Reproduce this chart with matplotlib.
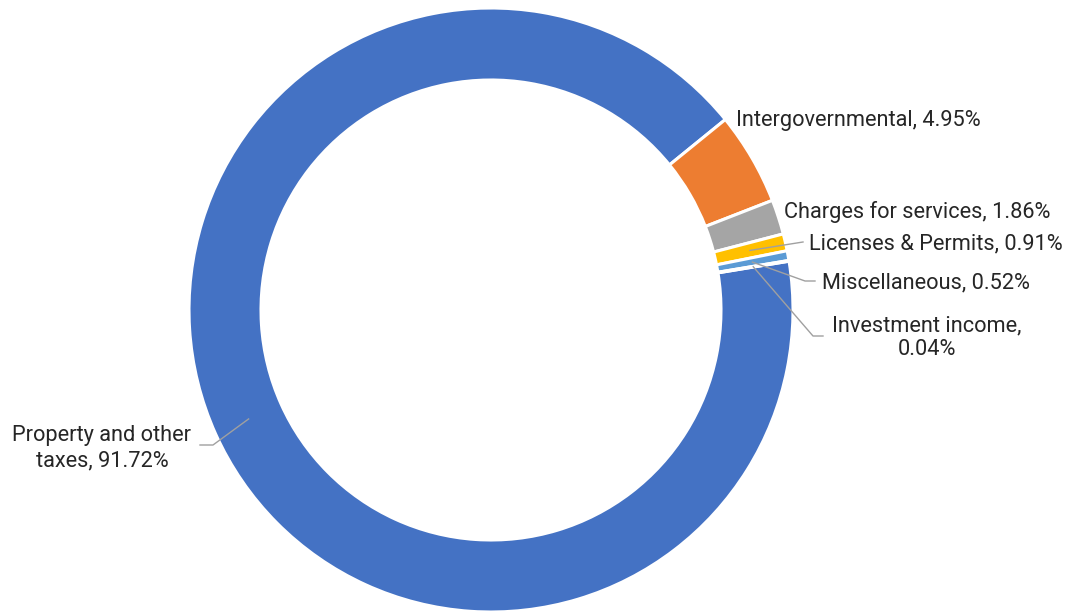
import numpy as np
import matplotlib
matplotlib.use("Agg")
import matplotlib.pyplot as plt

categories = ["Property and other\ntaxes", "Intergovernmental", "Charges for services",
              "Licenses & Permits", "Miscellaneous", "Investment income,\n"]
values = [91.72, 4.95, 1.86, 0.91, 0.52, 0.04]
colors = ["#4472C4", "#ED7D31", "#A5A5A5", "#FFC000", "#5B9BD5", "#70AD47"]

W, H = 1071, 613
CX, CY, R = 491, 310, 302

def px(x, y):
    return (x - CX) / R, (CY - y) / R

plt.rcParams['font.family'] = ['Roboto', 'DejaVu Sans']
fig = plt.figure(figsize=(W / 100, H / 100), dpi=100)
ax = fig.add_axes([0, 0, 1, 1])
wedges, _ = ax.pie(values, colors=colors, startangle=9.3, counterclock=False,
                   radius=1.0, wedgeprops=dict(width=72 / R, edgecolor="white", linewidth=2.2))
ax.set_xlim(-CX / R, (W - CX) / R)
ax.set_ylim(-(H - CY) / R, CY / R)
ax.axis("off")

def mid_point(w, r=0.88):
    a = np.deg2rad((w.theta1 + w.theta2) / 2)
    return r * np.cos(a), r * np.sin(a)

tc = "#262626"
fs = 15.7
lc = "#A0A0A0"

def label_text(i):
    return f"{categories[i]}, {values[i]:.2f}%"

# Intergovernmental
ax.text(*px(736, 120), label_text(1), fontsize=fs, color=tc, ha="left", va="center")
# Charges
ax.text(*px(784, 212), label_text(2), fontsize=fs, color=tc, ha="left", va="center")
# Licenses
ax.text(*px(809, 244), label_text(3), fontsize=fs, color=tc, ha="left", va="center")
x0, y0 = mid_point(wedges[3])
ax.plot([x0, px(803, 242)[0]], [y0, px(803, 242)[1]], color=lc, lw=1.0)
# Misc
ax.text(*px(822, 283), label_text(4), fontsize=fs, color=tc, ha="left", va="center")
x0, y0 = mid_point(wedges[4])
e1 = px(805, 281); e2 = px(815, 281)
ax.plot([x0, e1[0], e2[0]], [y0, e1[1], e2[1]], color=lc, lw=1.0)
# Investment
ax.text(*px(927, 338), f"Investment income,\n{values[5]:.2f}%", fontsize=fs, color=tc,
        ha="center", va="center", linespacing=1.15)
x0, y0 = mid_point(wedges[5])
e1 = px(813, 336); e2 = px(823, 336)
ax.plot([x0, e1[0], e2[0]], [y0, e1[1], e2[1]], color=lc, lw=1.0)
# Property
ax.text(*px(102, 448), f"Property and other\ntaxes, {values[0]:.2f}%", fontsize=fs, color=tc,
        ha="center", va="center", linespacing=1.25)
x0, y0 = mid_point(wedges[0])
e1 = px(213, 445); e2 = px(200, 445)
ax.plot([x0, e1[0], e2[0]], [y0, e1[1], e2[1]], color=lc, lw=1.0)

fig.savefig("out.png", dpi=100, facecolor="white")
